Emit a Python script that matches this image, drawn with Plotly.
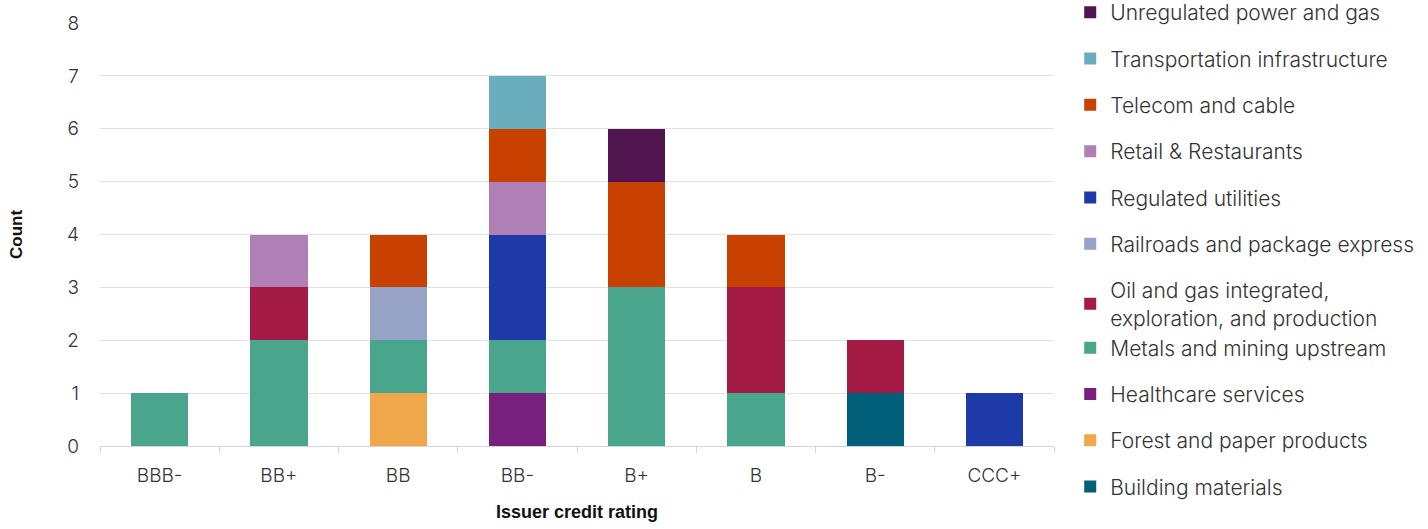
import plotly.graph_objects as go

ratings = ["BBB-", "BB+", "BB", "BB-", "B+", "B", "B-", "CCC+"]

# Sector counts per issuer credit rating, listed bottom of stack first
building_materials = [0, 0, 0, 0, 0, 0, 1, 0]
forest_paper = [0, 0, 1, 0, 0, 0, 0, 0]
healthcare = [0, 0, 0, 1, 0, 0, 0, 0]
metals_mining = [1, 2, 1, 1, 3, 1, 0, 0]
oil_gas = [0, 1, 0, 0, 0, 2, 1, 0]
railroads = [0, 0, 1, 0, 0, 0, 0, 0]
regulated_utilities = [0, 0, 0, 2, 0, 0, 0, 1]
retail = [0, 1, 0, 1, 0, 0, 0, 0]
telecom = [0, 0, 1, 1, 2, 1, 0, 0]
transportation = [0, 0, 0, 1, 0, 0, 0, 0]
unregulated = [0, 0, 0, 0, 1, 0, 0, 0]

series = [
    ("Building materials", building_materials, "#00607a", "g1"),
    ("Forest and paper products", forest_paper, "#f0a64a", "g2"),
    ("Healthcare services", healthcare, "#77217c", "g3"),
    ("Metals and mining upstream", metals_mining, "#49a68c", "g4"),
    ("Oil and gas integrated,<br>exploration, and production", oil_gas, "#a31a45", "g4"),
    ("Railroads and package express", railroads, "#96a2c6", "g5"),
    ("Regulated utilities", regulated_utilities, "#1e3aa8", "g6"),
    ("Retail & Restaurants", retail, "#b07fb5", "g7"),
    ("Telecom and cable", telecom, "#c84100", "g8"),
    ("Transportation infrastructure", transportation, "#6aaebd", "g9"),
    ("Unregulated power and gas", unregulated, "#51164f", "g10"),
]

fig = go.Figure()
n = len(series)
for i, (name, vals, color, grp) in enumerate(series):
    fig.add_trace(go.Bar(
        x=ratings, y=vals, name=name, legendgroup=grp,
        legendrank=100 * (n - i),
        marker=dict(color=color, line=dict(width=0)),
    ))

label_font = dict(family="Inter", size=19, color="#333333", weight=300)
title_font = dict(family="Liberation Sans", size=18, color="#111111", weight="bold")

fig.update_layout(
    barmode="stack",
    bargap=0.52,
    width=1428, height=529,
    margin=dict(l=100, r=374, t=23, b=83, autoexpand=False),
    paper_bgcolor="white",
    plot_bgcolor="white",
    font=label_font,
    legend=dict(
        x=1.017, y=1.073, xanchor="left", yanchor="top",
        traceorder="grouped",
        tracegroupgap=16,
        font=dict(family="Inter", size=21, color="#333333", weight=300),
        itemwidth=30,
        maxheight=600,
    ),
    xaxis=dict(
        title=dict(text="Issuer credit rating", font=title_font, standoff=19),
        tickfont=label_font,
        showline=True, linecolor="#d4d4d4", linewidth=1,
        ticks="outside", tickson="boundaries", ticklen=6, tickcolor="#d4d4d4",
        ticklabelstandoff=12,
        showgrid=False,
    ),
    yaxis=dict(
        title=dict(text="Count", font=dict(family="Liberation Sans", size=17, color="#111111", weight="bold"), standoff=40),
        range=[0, 8], dtick=1,
        tickfont=label_font,
        showgrid=True, gridcolor="#e2e2e2", gridwidth=1,
        zeroline=False,
        ticklabelstandoff=20,
    ),
)

fig.write_html("out.html")
